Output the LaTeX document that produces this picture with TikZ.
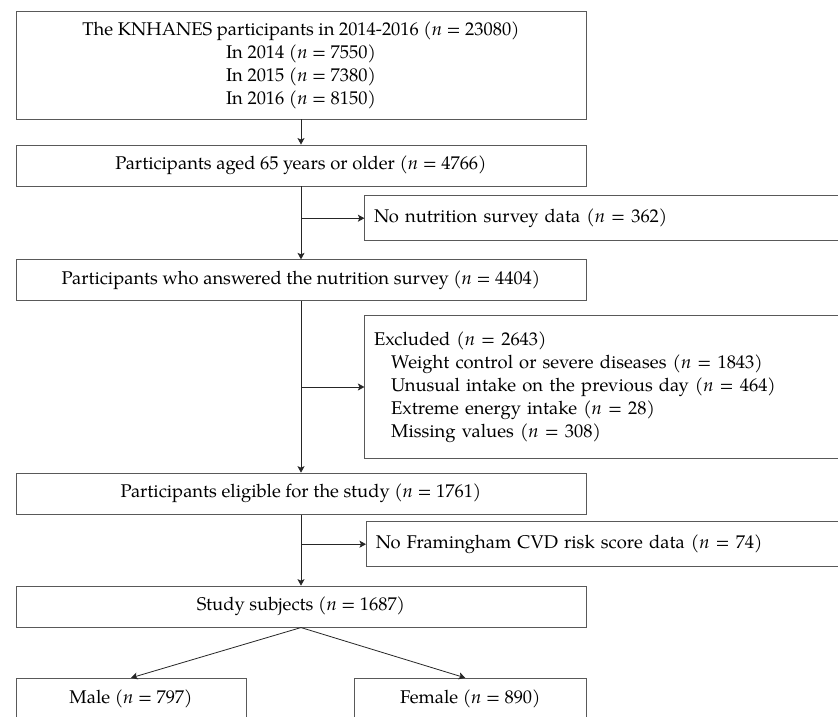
\documentclass[tikz,border=0pt]{standalone}
\usepackage{fontspec}
\setmainfont{TeX Gyre Pagella}
\usetikzlibrary{arrows.meta}
\begin{document}
\begin{tikzpicture}[x=1pt,y=-1pt,
  txt/.style={font=\fontsize{18.4}{23}\selectfont},
  box/.style={txt, draw=black!65, line width=0.9pt, inner sep=0pt, minimum width=570pt, align=center},
  sidebox/.style={txt, draw=black!65, line width=0.9pt, anchor=west, inner xsep=9.3pt, inner ysep=0pt, text width=470pt, align=left},
  conn/.style={draw=black!85, line width=0.8pt},
  arr/.style={conn, -{Stealth[length=6.5pt,width=7pt,inset=1.5pt]}}]
\clip (0,0) rectangle (838,717);
\fill[white] (0,0) rectangle (838,717);
\node[box, minimum height=108pt] (top) at (301,65) {The KNHANES participants in 2014-2016 (\textit{n} = 23080)\\In 2014 (\textit{n} = 7550)\\In 2015 (\textit{n} = 7380)\\In 2016 (\textit{n} = 8150)};
\node[box, minimum height=41pt] (age) at (301,165.5) {Participants aged 65 years or older (\textit{n} = 4766)};
\node[sidebox, minimum height=45pt] (nonut) at (364.4,218.2) {No nutrition survey data (\textit{n} = 362)};
\node[box, minimum height=41pt] (ans) at (301,280.3) {Participants who answered the nutrition survey (\textit{n} = 4404)};
\node[sidebox, minimum height=142.6pt] (excl) at (364.4,387) {Excluded (\textit{n} = 2643)\\
\hspace*{17pt}Weight control or severe diseases (\textit{n} = 1843)\\
\hspace*{17pt}Unusual intake on the previous day (\textit{n} = 464)\\
\hspace*{17pt}Extreme energy intake (\textit{n} = 28)\\
\hspace*{17pt}Missing values (\textit{n} = 308)};
\node[box, minimum height=41pt] (elig) at (301,493.6) {Participants eligible for the study (\textit{n} = 1761)};
\node[sidebox, minimum height=45pt] (fram) at (366,544.2) {No Framingham CVD risk score data (\textit{n} = 74)};
\node[box, minimum height=41pt] (study) at (301,606.6) {Study subjects (\textit{n} = 1687)};
\node[box, minimum width=230pt, minimum height=41.4pt] (male) at (131,699) {Male (\textit{n} = 797)};
\node[box, minimum width=232pt, minimum height=41.4pt] (female) at (470.3,699) {Female (\textit{n} = 890)};
% connectors
\draw[arr] (top.south) -- (age.north);
\draw[arr] (age.south) -- (ans.north);
\coordinate (b1) at (age.south |- nonut.west);
\draw[arr] (b1) -- (nonut.west);
\draw[arr] (ans.south) -- (elig.north);
\coordinate (b2) at (ans.south |- excl.west);
\draw[arr] (b2) -- (excl.west);
\draw[arr] (elig.south) -- (study.north);
\coordinate (b3) at (elig.south |- fram.west);
\draw[arr] (b3) -- (fram.west);
\draw[arr] (study.south) -- (male.north);
\draw[arr] (study.south) -- ([xshift=-5pt]female.north);
\end{tikzpicture}
\end{document}
